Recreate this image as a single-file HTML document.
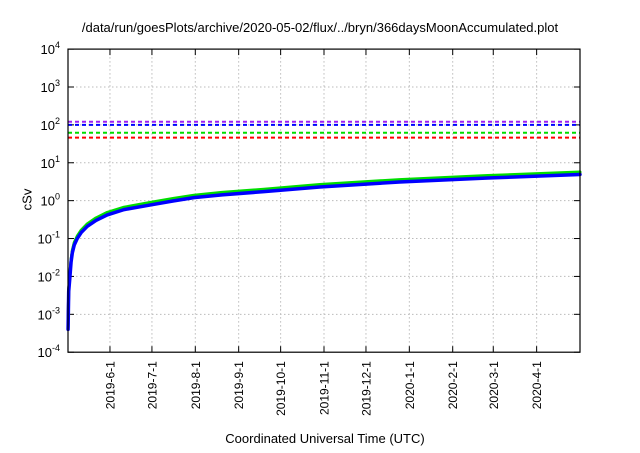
<!DOCTYPE html>
<html><head><meta charset="utf-8"><style>
body{margin:0;background:#fff;font-family:"Liberation Sans",sans-serif}
svg text{font-family:"Liberation Sans",sans-serif;fill:#000}
</style></head><body>
<svg id="c" width="640" height="448" xmlns="http://www.w3.org/2000/svg"></svg>
<script>
const days=[0.05,0.5,1.4,2.2,3.1,4.5,6.6,9.5,13.8,20,28,40,59,75,90,110,140,180,237,300,366];
const blueVals=[0.0004,0.004,0.01,0.024,0.042,0.068,0.1,0.145,0.21,0.3,0.42,0.58,0.77,0.98,1.2,1.42,1.73,2.3,3.1,3.95,4.9];
const greenVals=[0.00046,0.0046,0.0116,0.028,0.049,0.079,0.116,0.168,0.244,0.35,0.49,0.67,0.9,1.14,1.39,1.65,2.0,2.66,3.6,4.6,5.7];
const redVals=[0.00045,0.0045,0.0112,0.027,0.047,0.076,0.112,0.163,0.236,0.34,0.47,0.65,0.87,1.1,1.35,1.6,1.94,2.58,3.48,4.45,5.5];
const limitVals=[121,100,62,46];
const limitColors=['#a020f0','#0000ff','#00dd00','#ff0000'];
const yTickExp=[-4,-3,-2,-1,0,1,2,3,4];
const monthLabels=['2019-6-1','2019-7-1','2019-8-1','2019-9-1','2019-10-1','2019-11-1','2019-12-1','2020-1-1','2020-2-1','2020-3-1','2020-4-1'];
const monthDays=[30,60,91,122,152,183,213,244,275,304,335];

const L=68,R=580,T=49.1,B=352.2,D0=0,D1=366;
const X=d=>L+(d-D0)/(D1-D0)*(R-L);
const Y=v=>B-(Math.log10(v)+4)/8*(B-T);
const svg=document.getElementById('c');
const NS='http://www.w3.org/2000/svg';
function mk(tag,attrs,parent){const e=document.createElementNS(NS,tag);for(const k in attrs)e.setAttribute(k,attrs[k]);(parent||svg).appendChild(e);return e;}

yTickExp.forEach(e=>{
  const y=Y(Math.pow(10,e));
  if(e>-4&&e<4){const g=mk('line',{x1:L,x2:R,y1:y,y2:y,stroke:'#bbb','stroke-dasharray':'1.5,2.5','stroke-width':1});
  
  }
  const t1=mk('line',{x1:L,x2:L+6,y1:y,y2:y,stroke:'#000'});
  
  
  const t2=mk('line',{x1:R-6,x2:R,y1:y,y2:y,stroke:'#000'});
  
  
  const tx=mk('text',{x:L-8,y:y+5,'text-anchor':'end','font-size':13});
  
  
  tx.appendChild(document.createTextNode('10'));
  const sp=mk('tspan',{dy:-6,'font-size':9},tx);sp.textContent=String(e);
});
monthDays.forEach((d,i)=>{
  const x=X(d);
  const g=mk('line',{x1:x,x2:x,y1:T,y2:B,stroke:'#bbb','stroke-dasharray':'1.5,2.5'});
  
  
  const t=mk('line',{x1:x,x2:x,y1:B-6,y2:B,stroke:'#000'});
  
  
  const t2=mk('line',{x1:x,x2:x,y1:T,y2:T+6,stroke:'#000'});
  
  
  const tx=mk('text',{x:0,y:0,'text-anchor':'end','font-size':12,transform:`translate(${x+4.5},${B+9}) rotate(-90)`});
  
  
  tx.textContent=monthLabels[i];
});
limitVals.forEach((v,i)=>{
  const y=Y(v);
  const l=mk('line',{x1:L,x2:R,y1:y,y2:y,stroke:limitColors[i],'stroke-width':2,'stroke-dasharray':'4,3'});
  
  
});
function series(vals,color,w,name){
  const p=mk('polyline',{points:days.map((d,i)=>X(d)+','+Y(vals[i])).join(' '),fill:'none',stroke:color,'stroke-width':w,'stroke-linejoin':'round','stroke-linecap':'round'});
  
  
}
series(redVals,'#ff0000',3,'series-red');
series(greenVals,'#00dd00',3,'series-green');
series(blueVals,'#0000ff',3.5,'series-blue');
const f=mk('rect',{x:L,y:T,width:R-L,height:B-T,fill:'none',stroke:'#000','stroke-width':1.2});


</script>
<div style="position:absolute;left:0;top:20px;width:640px;text-align:center;font-size:13px">/data/run/goesPlots/archive/2020-05-02/flux/../bryn/366daysMoonAccumulated.plot</div>
<div style="position:absolute;left:16px;top:192px;font-size:13px;transform:rotate(-90deg)">cSv</div>
<div style="position:absolute;left:0;top:431px;width:650px;text-align:center;font-size:13px">Coordinated Universal Time (UTC)</div>
</body></html>
